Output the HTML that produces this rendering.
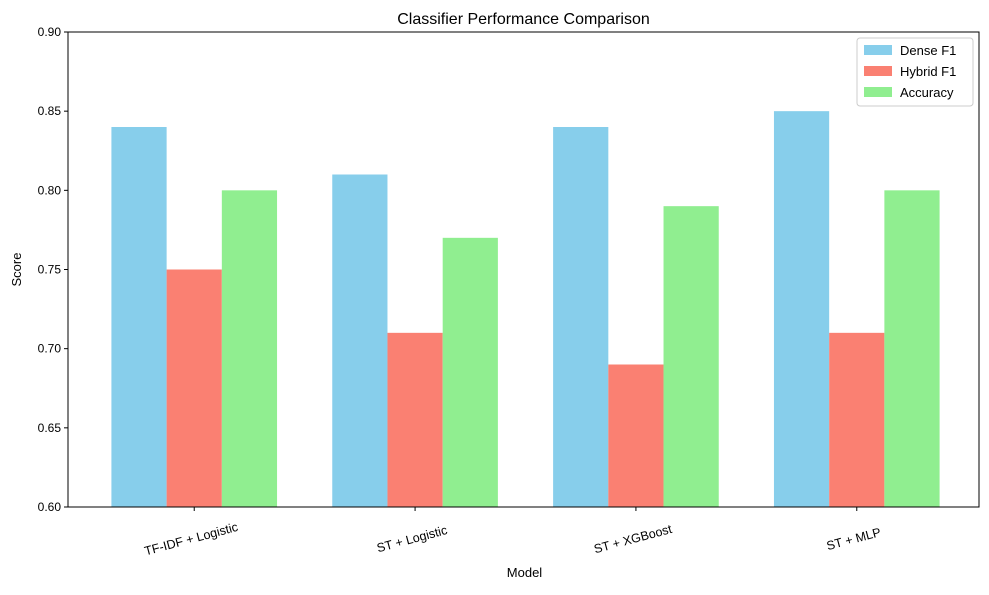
<!DOCTYPE html>
<html><head><meta charset="utf-8"><style>
body{margin:0;background:#fff;}
svg{font-family:"Liberation Sans","DejaVu Sans",sans-serif;}
</style></head><body>
<svg id="chart" width="989" height="590" xmlns="http://www.w3.org/2000/svg">
<rect width="989" height="590" fill="#fff"/>
<text x="523.5" y="24" text-anchor="middle" font-size="16">Classifier Performance Comparison</text>
<g id="plot"></g>
<text x="524.5" y="577" text-anchor="middle" font-size="13">Model</text>
<text transform="translate(21,269.5) rotate(-90)" text-anchor="middle" font-size="13">Score</text>
<g>
<rect x="857" y="38" width="116" height="68" fill="#fff" stroke="#ccc" rx="3"/>
<rect x="864" y="45" width="28" height="10" fill="#87ceeb"/>
<text x="900" y="55" font-size="13">Dense F1</text>
<rect x="864" y="66" width="28" height="10" fill="#fa8072"/>
<text x="900" y="76" font-size="13">Hybrid F1</text>
<rect x="864" y="87" width="28" height="10" fill="#90ee90"/>
<text x="900" y="97" font-size="13">Accuracy</text>
</g>
</svg>
<script>
const categories=["TF-IDF + Logistic","ST + Logistic","ST + XGBoost","ST + MLP"];
const denseF1=[0.84,0.81,0.84,0.85];
const hybridF1=[0.75,0.71,0.69,0.71];
const accuracy=[0.80,0.77,0.79,0.80];
const yTicks=[0.60,0.65,0.70,0.75,0.80,0.85,0.90];
const L=68,R=979,T=32,B=507,ymin=0.6,ymax=0.9,xmin=-0.5625,xmax=3.5625,DX=2;
const NS="http://www.w3.org/2000/svg";
const g=document.getElementById('plot');
const xs=v=>L+DX+(v-xmin)/(xmax-xmin)*(R-L);
const ys=v=>B-(v-ymin)/(ymax-ymin)*(B-T);
function mk(t,a){const e=document.createElementNS(NS,t);for(const k in a)e.setAttribute(k,a[k]);g.appendChild(e);return e;}
const series=[[denseF1,"#87ceeb","dense-f1"],[hybridF1,"#fa8072","hybrid-f1"],[accuracy,"#90ee90","accuracy"]];
series.forEach((s,si)=>{s[0].forEach((v,i)=>{const c=i+(si-1)*0.25;const x0=xs(c-0.125),x1=xs(c+0.125);
const r=mk('rect',{x:x0,y:ys(v),width:x1-x0,height:B-ys(v),fill:s[1]});

});});
const f=mk('rect',{x:L,y:T,width:R-L,height:B-T,fill:'none',stroke:'#000','stroke-width':1});


yTicks.forEach(v=>{const y=ys(v);mk('line',{x1:L-4,x2:L,y1:y,y2:y,stroke:'#000'});
const t=mk('text',{x:L-7,y:y+4,'text-anchor':'end','font-size':12});t.textContent=v.toFixed(2);

});
categories.forEach((c,i)=>{const x=xs(i);mk('line',{x1:x,x2:x,y1:B,y2:B+4,stroke:'#000'});
const t=mk('text',{transform:`translate(${x-2},${B+36}) rotate(-15)`,'text-anchor':'middle','font-size':12.5});t.textContent=c;

});
</script>
</body></html>
